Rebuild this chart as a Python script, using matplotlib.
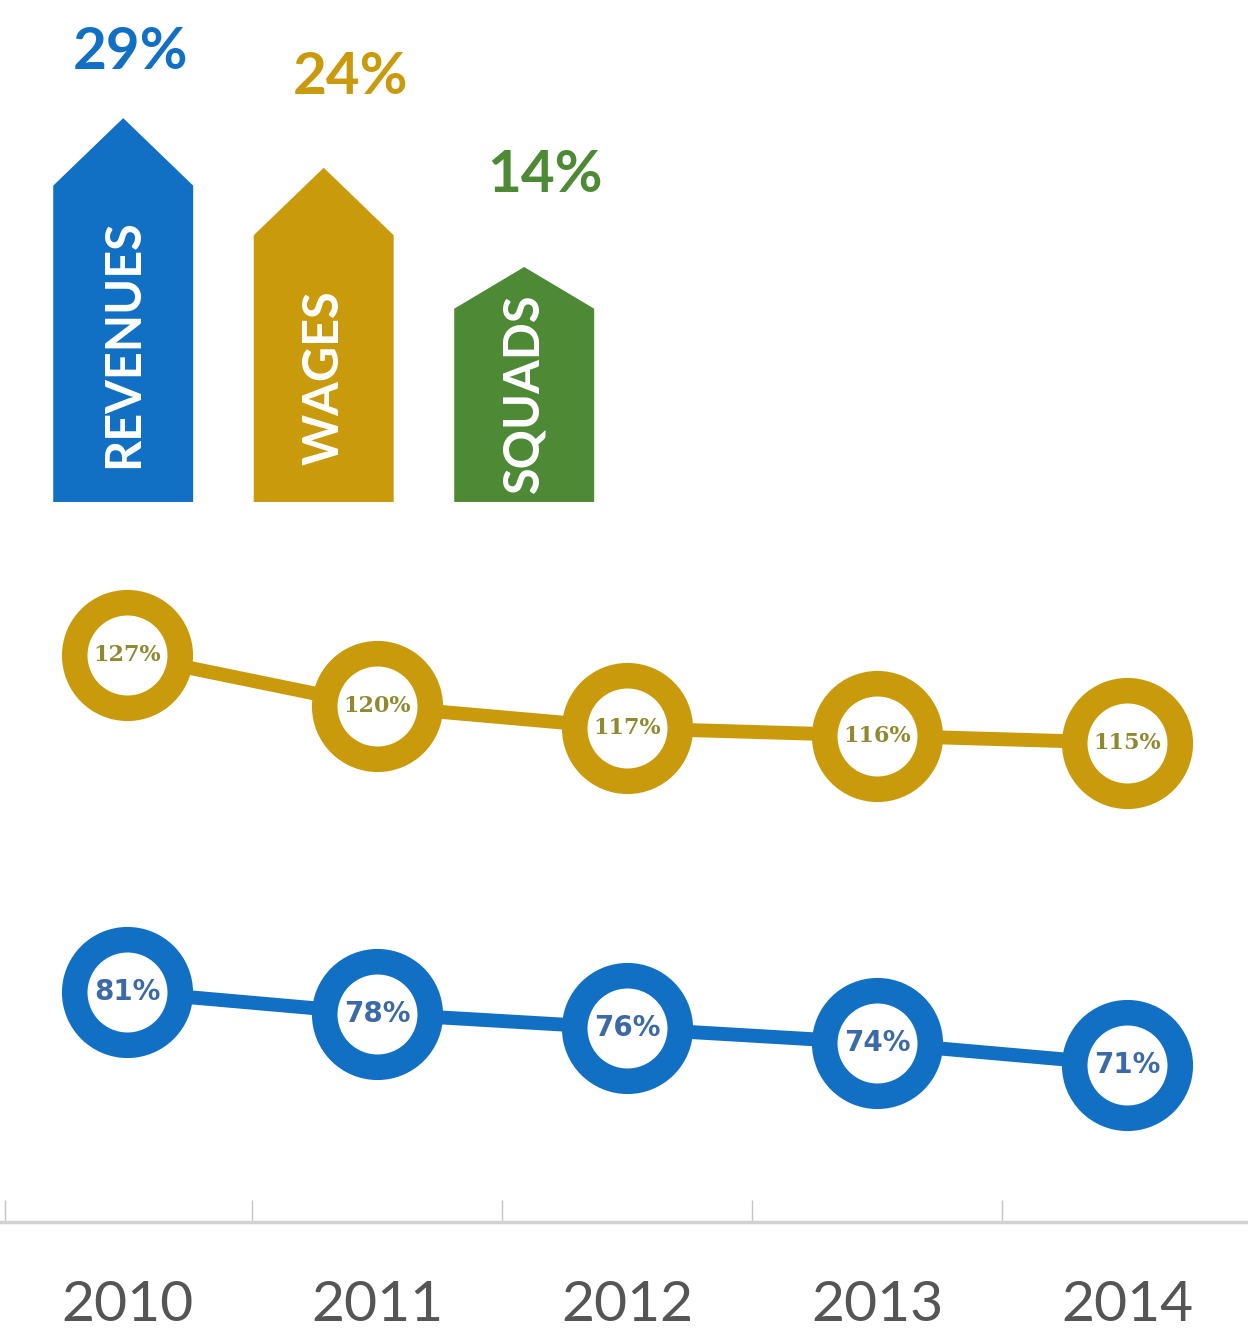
import matplotlib
matplotlib.use('Agg')
import matplotlib.pyplot as plt
from matplotlib.patches import Polygon
from matplotlib.ticker import FixedLocator, NullFormatter, FixedFormatter

# ---- data ----
categories = ['REVENUES', 'WAGES', 'SQUADS']
growth = [29, 24, 14]
growth_labels = ['29%', '24%', '14%']
years = ['2010', '2011', '2012', '2013', '2014']
wages_ratio = [127, 120, 117, 116, 115]
revenue_ratio = [81, 78, 76, 74, 71]

BLUE = '#1170c4'
GOLD = '#c99a0c'
GREEN = '#4e8a35'
bar_colors = [BLUE, GOLD, GREEN]

fig = plt.figure(figsize=(12.48, 13.29), dpi=100)
fig.patch.set_facecolor('white')

# ---- top: arrow bars ----
axt = fig.add_axes([0, 0.6223, 1, 0.3777])
axt.set_xlim(-123.2 / 200.5, (1248 - 123.2) / 200.5)
axt.set_ylim(-9.67, 40.9)
axt.axis('off')
base = axt.get_ylim()[0]
w = 0.698
heads = [6.8, 6.8, 4.2]
text_shift = [0.0, -0.95, 1.25]
offsets = [(5, 47.5), (19, 65), (15, 66)]
for i, (cat, v, lab, c) in enumerate(zip(categories, growth, growth_labels, bar_colors)):
    h = heads[i]
    poly = Polygon([(i - w / 2, base), (i + w / 2, base), (i + w / 2, v - h),
                    (i, v), (i - w / 2, v - h)], closed=True, fc=c, ec='none')
    axt.add_patch(poly)
    axt.text(i, (base + v - h) / 2 + text_shift[i], cat, rotation=90,
             ha='center', va='center', color='white', fontsize=35,
             family='Lato', weight='bold')
    axt.annotate(lab, (i, v), xytext=offsets[i], textcoords='offset points',
                 ha='center', va='center', color=c, fontsize=42, family='Lato',
                 weight='bold')

# ---- bottom: ratio lines ----
ax = fig.add_axes([0, 0.0805, 1, 0.4981])
x = list(range(len(years)))
for vals, c, tc, fam, fs in [(wages_ratio, GOLD, '#8f8a30', 'DejaVu Serif', 16),
                             (revenue_ratio, BLUE, '#3c6aa6', 'DejaVu Sans', 20)]:
    ax.plot(x, vals, color=c, lw=10, marker='o', ms=76, mfc='white', mec=c,
            mew=18.4, solid_capstyle='butt', zorder=2)
    for xi, v in zip(x, vals):
        ax.text(xi, v, f'{v}%', ha='center', va='center', color=tc,
                fontsize=fs, weight='bold', family=fam, zorder=3)

ax.set_xlim(-0.508, 4.484)
ax.set_ylim(49.54, 139.98)
for s in ['top', 'left', 'right']:
    ax.spines[s].set_visible(False)
ax.spines['bottom'].set_color('#d2d2d2')
ax.spines['bottom'].set_linewidth(2.5)
ax.set_yticks([])
ax.xaxis.set_major_locator(FixedLocator([-0.49, 0.5, 1.5, 2.5, 3.5]))
ax.xaxis.set_major_formatter(NullFormatter())
ax.xaxis.set_minor_locator(FixedLocator(x))
ax.xaxis.set_minor_formatter(FixedFormatter(years))
ax.tick_params(axis='x', which='major', direction='in', length=16, width=1, color='#c4c4c4')
ax.tick_params(axis='x', which='minor', length=0, pad=42, labelsize=41, labelcolor='#555555')
for lbl in ax.xaxis.get_minorticklabels():
    lbl.set_family('Lato')

fig.savefig('out.png', dpi=100, facecolor='white')
